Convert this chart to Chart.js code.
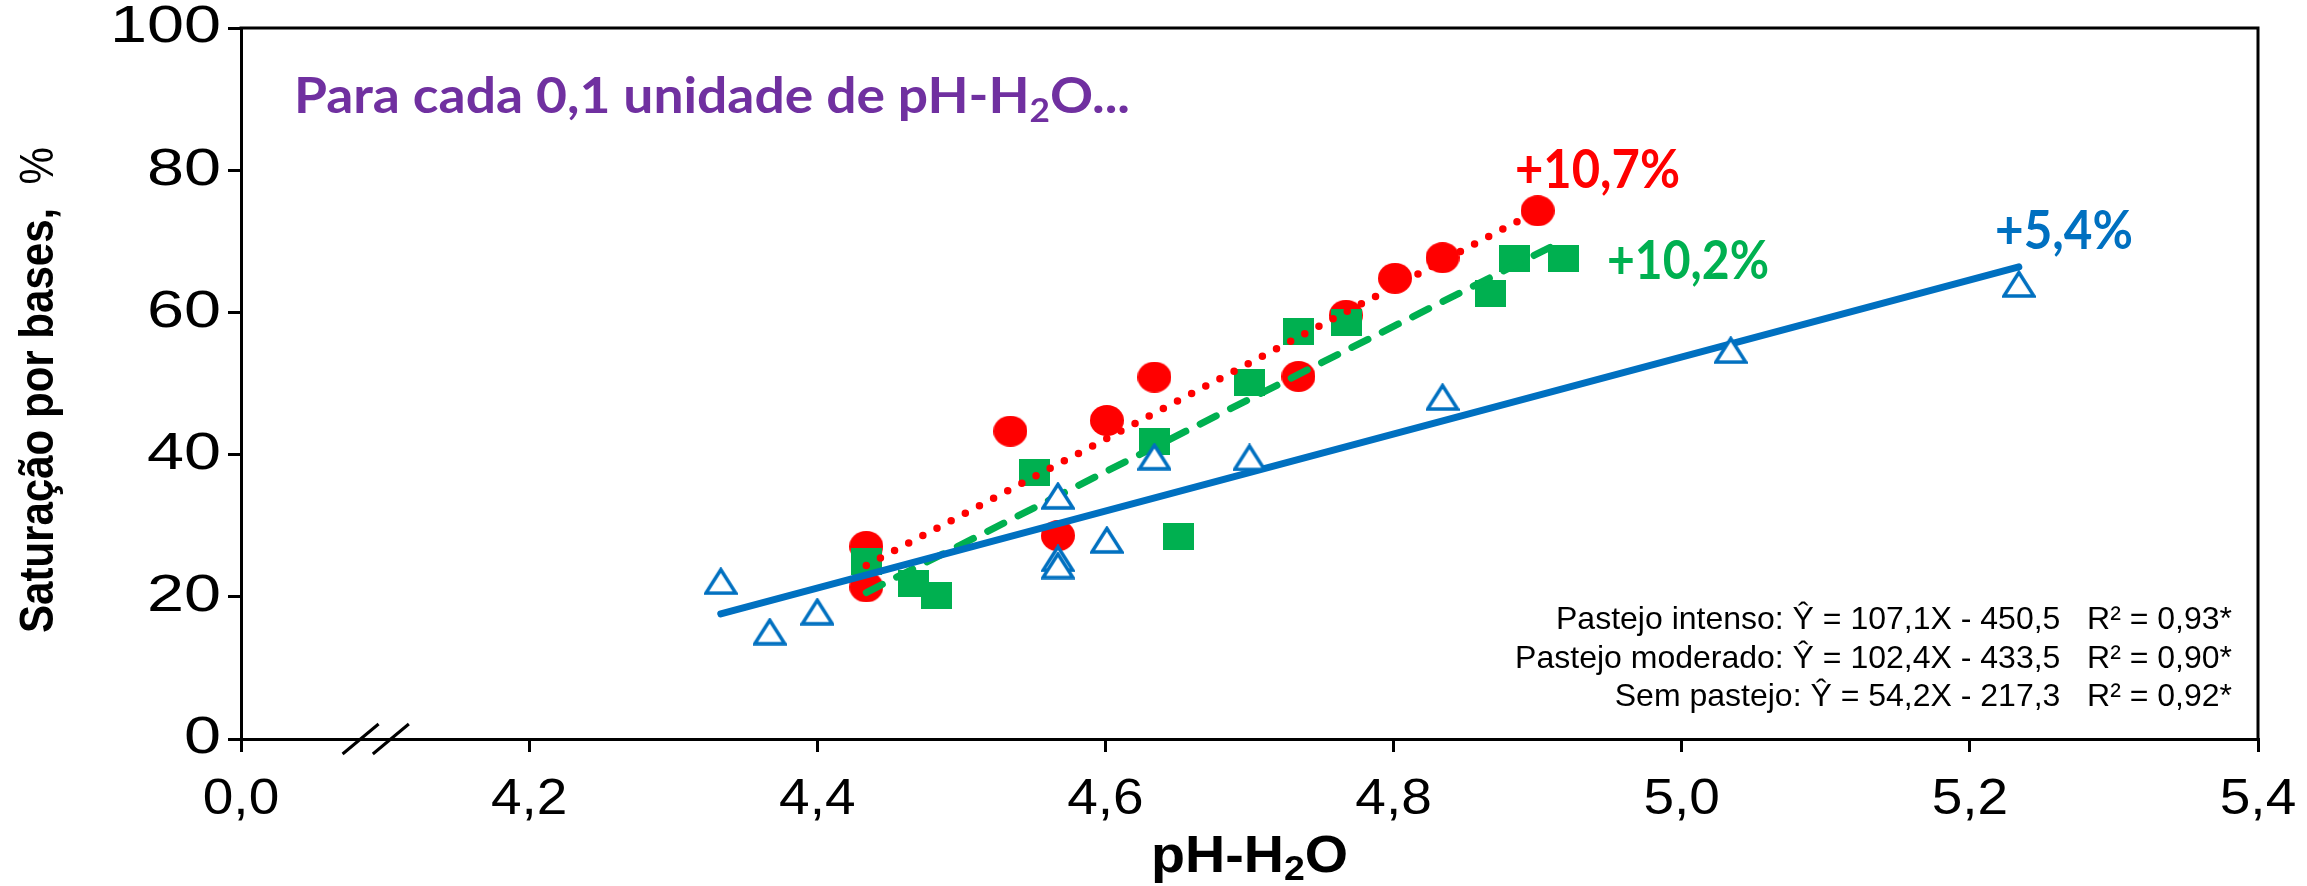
<!DOCTYPE html>
<html>
<head>
<meta charset="utf-8">
<script src="https://cdn.jsdelivr.net/npm/chart.js@4.4.1/dist/chart.umd.min.js"></script>
<style>
  html, body { margin: 0; padding: 0; background: #fff; }
</style>
</head>
<body>
<canvas id="grafico" width="2307" height="886"></canvas>
<script>
// pH-H2O (x) e saturação por bases (y)
const intensoX = [4.434, 4.434, 4.534, 4.567, 4.601, 4.634, 4.734, 4.767, 4.801, 4.834, 4.900];
const intensoY = [27.1, 21.4, 43.3, 28.6, 44.8, 50.9, 51.0, 59.6, 64.8, 67.7, 74.3];

const moderadoX = [4.434, 4.467, 4.483, 4.551, 4.634, 4.651, 4.700, 4.734, 4.767, 4.867, 4.884, 4.918];
const moderadoY = [25.0, 21.9, 20.2, 37.5, 41.9, 28.5, 50.2, 57.3, 58.6, 62.6, 67.6, 67.6];

const semX = [4.333, 4.367, 4.400, 4.567, 4.567, 4.567, 4.601, 4.634, 4.700, 4.834, 5.034, 5.234];
const semY = [22.2, 15.1, 17.9, 34.2, 25.4, 24.4, 28.0, 39.7, 39.6, 48.1, 54.7, 64.0];

// extremos das retas ajustadas
const intensoRetaX = [4.434, 4.900];
const intensoRetaY = [24.4, 74.3];
const moderadoRetaX = [4.434, 4.918];
const moderadoRetaY = [20.6, 70.1];
const semRetaX = [4.333, 5.234];
const semRetaY = [17.6, 66.4];

const xTickLabels = ['0,0', '4,2', '4,4', '4,6', '4,8', '5,0', '5,2', '5,4'];
const yTickLabels = ['0', '20', '40', '60', '80', '100'];

const equacoes = [
    'Pastejo intenso: \u0176 = 107,1X - 450,5   R\u00b2 = 0,93*',
    'Pastejo moderado: \u0176 = 102,4X - 433,5   R\u00b2 = 0,90*',
    'Sem pastejo: \u0176 = 54,2X - 217,3   R\u00b2 = 0,92*'
];

const VERMELHO = '#FF0000';
const VERDE = '#00B050';
const AZUL = '#0070C0';
const ROXO = '#7030A0';
const fonteArial = "'Liberation Sans', Arial, sans-serif";
const fonteGeo = "Lato, 'Open Sans', sans-serif";

function pontos(xs, ys) {
    return xs.map((x, i) => ({ x: x, y: ys[i] }));
}

// marcadores desenhados à parte (o original é um pouco achatado)
function marcador(w, h, desenha) {
    const c = document.createElement('canvas');
    c.width = w;
    c.height = h;
    desenha(c.getContext('2d'), w, h);
    return c;
}
const imgCirculo = marcador(34, 31, (g, w, h) => {
    g.fillStyle = VERMELHO;
    g.beginPath();
    g.ellipse(w / 2, h / 2, w / 2, h / 2, 0, 0, 2 * Math.PI);
    g.fill();
});
const imgQuadrado = marcador(31, 27, (g, w, h) => {
    g.fillStyle = VERDE;
    g.fillRect(0, 0, w, h);
});
const imgTriangulo = marcador(34, 28, (g, w, h) => {
    g.fillStyle = '#fff';
    g.strokeStyle = AZUL;
    g.lineWidth = 3.5;
    g.beginPath();
    g.moveTo(w / 2, 2.5);
    g.lineTo(w - 2, h - 2);
    g.lineTo(2, h - 2);
    g.closePath();
    g.fill();
    g.stroke();
});

// texto em partes (subscrito), esticado na horizontal até a largura pedida
function larguraPartes(ctx, partes) {
    let w = 0;
    partes.forEach(p => {
        ctx.font = p.font;
        w += ctx.measureText(p.t).width;
    });
    return w;
}
function textoAjustado(ctx, partes, x, y, alinh, largura, esticar) {
    const w = larguraPartes(ctx, partes);
    const sx = largura ? largura / w : (esticar || 1);
    ctx.save();
    ctx.translate(x, y);
    ctx.scale(sx, 1);
    let cx = alinh === 'center' ? -w / 2 : (alinh === 'right' ? -w : 0);
    ctx.textAlign = 'left';
    partes.forEach(p => {
        ctx.font = p.font;
        ctx.fillText(p.t, cx, p.dy || 0);
        cx += ctx.measureText(p.t).width;
    });
    ctx.restore();
}

const anotacoes = {
    id: 'anotacoes',
    afterDraw(chart) {
        const ctx = chart.ctx;
        const area = chart.chartArea;
        const xs = chart.scales.x;
        const ys = chart.scales.y;
        ctx.save();

        // moldura superior e direita
        ctx.strokeStyle = '#000';
        ctx.lineWidth = 3;
        ctx.beginPath();
        ctx.moveTo(area.left - 1.5, area.top);
        ctx.lineTo(area.right, area.top);
        ctx.lineTo(area.right, area.bottom);
        ctx.stroke();

        // quebra do eixo x
        [4.083, 4.104].forEach(v => {
            const px = xs.getPixelForValue(v);
            ctx.beginPath();
            ctx.moveTo(px - 18, area.bottom + 15);
            ctx.lineTo(px + 18, area.bottom - 15);
            ctx.stroke();
        });

        // rótulos dos eixos (fonte alargada como no original)
        ctx.fillStyle = '#000';
        ctx.textBaseline = 'middle';
        xs.ticks.forEach((t, i) => {
            textoAjustado(ctx, [{ t: xTickLabels[i], font: '50px ' + fonteArial }],
                xs.getPixelForValue(t.value), area.bottom + 61, 'center', 0, 1.1);
        });
        ys.ticks.forEach((t, i) => {
            textoAjustado(ctx, [{ t: yTickLabels[i], font: '52px ' + fonteArial }],
                area.left - 20, ys.getPixelForValue(t.value), 'right', 0, 1.28);
        });

        // título do eixo y
        ctx.save();
        ctx.translate(40, 390);
        ctx.scale(1.15, 1);
        ctx.rotate(-Math.PI / 2);
        textoAjustado(ctx, [
            { t: 'Saturação por bases,  ', font: 'bold 42px ' + fonteArial },
            { t: '%', font: '42px ' + fonteArial }
        ], 0, 0, 'center', 486);
        ctx.restore();

        // título do eixo x
        ctx.textBaseline = 'alphabetic';
        textoAjustado(ctx, [
            { t: 'pH-H', font: 'bold 52px ' + fonteArial },
            { t: '2', font: 'bold 35px ' + fonteArial, dy: 8 },
            { t: 'O', font: 'bold 52px ' + fonteArial }
        ], (area.left + area.right) / 2, 872, 'center', 197);

        // frase em roxo
        ctx.fillStyle = ROXO;
        textoAjustado(ctx, [
            { t: 'Para cada 0,1 unidade de pH-H', font: 'bold 50px ' + fonteGeo },
            { t: '2', font: 'bold 33px ' + fonteGeo, dy: 9 },
            { t: 'O...', font: 'bold 50px ' + fonteGeo }
        ], 294, 113, 'left', 836);

        // incrementos
        const fP = 'bold 53px ' + fonteGeo;
        ctx.fillStyle = VERMELHO;
        textoAjustado(ctx, [{ t: '+10,7%', font: fP }], 1515, 188, 'left', 165);
        ctx.fillStyle = VERDE;
        textoAjustado(ctx, [{ t: '+10,2%', font: fP }], 1607, 279, 'left', 162);
        ctx.fillStyle = AZUL;
        textoAjustado(ctx, [{ t: '+5,4%', font: fP }], 1995, 249, 'left', 138);

        // equações
        ctx.fillStyle = '#000';
        ctx.textAlign = 'right';
        ctx.font = '32px ' + fonteArial;
        [629, 668, 706].forEach((y, i) => ctx.fillText(equacoes[i], 2232, y));

        ctx.restore();
    }
};

const ctx = document.getElementById('grafico').getContext('2d');
// o primeiro conjunto fica por cima
new Chart(ctx, {
    type: 'scatter',
    data: {
        datasets: [
            {
                label: 'Sem pastejo',
                data: pontos(semX, semY),
                pointStyle: imgTriangulo,
                pointRadius: 15,
                pointHoverRadius: 15
            },
            {
                label: 'Reta sem pastejo',
                data: pontos(semRetaX, semRetaY),
                showLine: true,
                pointRadius: 0,
                borderColor: AZUL,
                borderWidth: 7,
                borderCapStyle: 'round'
            },
            {
                label: 'Reta pastejo moderado',
                data: pontos(moderadoRetaX, moderadoRetaY),
                showLine: true,
                pointRadius: 0,
                borderColor: VERDE,
                borderWidth: 7,
                borderDash: [18, 16],
                borderCapStyle: 'round'
            },
            {
                label: 'Reta pastejo intenso',
                data: pontos(intensoRetaX, intensoRetaY),
                showLine: true,
                pointRadius: 0,
                borderColor: VERMELHO,
                borderWidth: 7.5,
                borderDash: [0, 16],
                borderCapStyle: 'round'
            },
            {
                label: 'Pastejo moderado',
                data: pontos(moderadoX, moderadoY),
                pointStyle: imgQuadrado,
                pointRadius: 15,
                pointHoverRadius: 15
            },
            {
                label: 'Pastejo intenso',
                data: pontos(intensoX, intensoY),
                pointStyle: imgCirculo,
                pointRadius: 15,
                pointHoverRadius: 15
            }
        ]
    },
    options: {
        responsive: false,
        animation: false,
        layout: { padding: { top: 28, right: 49, left: 0, bottom: 0 } },
        plugins: {
            legend: { display: false },
            tooltip: { enabled: false }
        },
        scales: {
            x: {
                type: 'linear',
                min: 4.0,
                max: 5.4,
                afterFit: (s) => { s.height = 147; },
                ticks: { display: false, stepSize: 0.2 },
                grid: { drawOnChartArea: false, drawTicks: true, tickLength: 13, color: '#000', lineWidth: 3 },
                border: { display: true, color: '#000', width: 3 }
            },
            y: {
                min: 0,
                max: 100,
                afterFit: (s) => { s.width = 241; },
                ticks: { display: false, stepSize: 20 },
                grid: { drawOnChartArea: false, drawTicks: true, tickLength: 13, color: '#000', lineWidth: 3 },
                border: { display: true, color: '#000', width: 3 }
            }
        }
    },
    plugins: [anotacoes]
});
</script>
</body>
</html>
